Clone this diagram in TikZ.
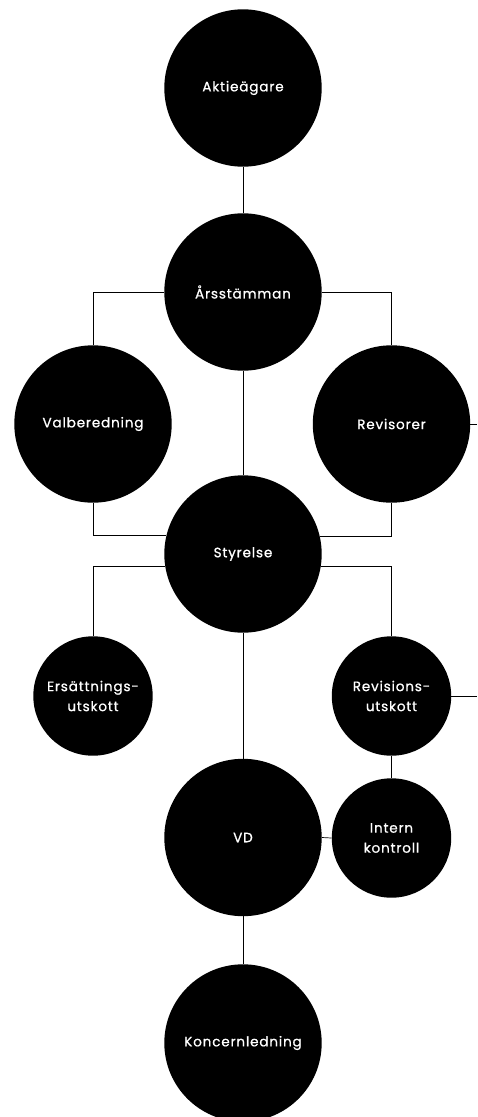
\documentclass[tikz,border=0pt]{standalone}
\usepackage{fontspec}
\setmainfont{Poppins}[LetterSpace=6, FakeBold=0.8]
\usetikzlibrary{positioning}
\tikzset{
    org chart/.style = {x=1pt, y=-1pt},
    line/.style      = {draw=black, line width=0.7pt},
    body/.style      = {circle, fill=black, text=white, align=center,
                        inner sep=0pt, font=\fontsize{13.6}{20}\selectfont},
    big/.style       = {body, minimum size=157.4pt},
    small/.style     = {body, minimum size=119.4pt}
}
\def\leftcol{93}
\def\midcol{243}
\def\rightcol{391.5}

\begin{document}
\begin{tikzpicture}[org chart]
\useasboundingbox (0,0) rectangle (477,1117);

% Owners and the general meeting.
\node[big] (owners) at (\midcol,88) {Aktieägare};
\node[big] (agm) at (\midcol,292) {Årsstämman};
\draw[line] (owners.south) -- (agm.north);

% Nomination committee and auditors beside the board.
\node[big] (nomination) at (\leftcol,424) {Valberedning};
\node[big] (auditors) at (\rightcol,424) {Revisorer};
\coordinate (auditors out) at (477,424);
\draw[line] (agm.west) -| (nomination.north);
\draw[line] (agm.east) -| (auditors.north);
\draw[line] (auditors.east) -- (auditors out);

% Board and its committees.
\node[big] (board) at (\midcol,554) {Styrelse};
\node[small] (remuneration) at (\leftcol,696) {Ersättnings-\\utskott};
\node[small] (audit) at (\rightcol,696) {Revisions-\\utskott};
\coordinate (audit out) at (477,696);
\draw[line] (agm.south) -- (board.north);
\draw[line] (nomination.south) |- (board.166.5);
\draw[line] (auditors.south) |- (board.13.5);
\draw[line] (board.189) -| (remuneration.north);
\draw[line] (board.351) -| (audit.north);
\draw[line] (audit.east) -- (audit out);

% Management.
\node[big] (ceo) at (\midcol,837.5) {VD};
\node[small] (control) at (\rightcol,838) {Intern\\kontroll};
\node[big] (management) at (\midcol,1043) {Koncernledning};
\draw[line] (board.south) -- (ceo.north);
\draw[line] (audit.south) -- (control.north);
\draw[line] (ceo.east) -- (control.west);
\draw[line] (ceo.south) -- (management.north);

\end{tikzpicture}
\end{document}
